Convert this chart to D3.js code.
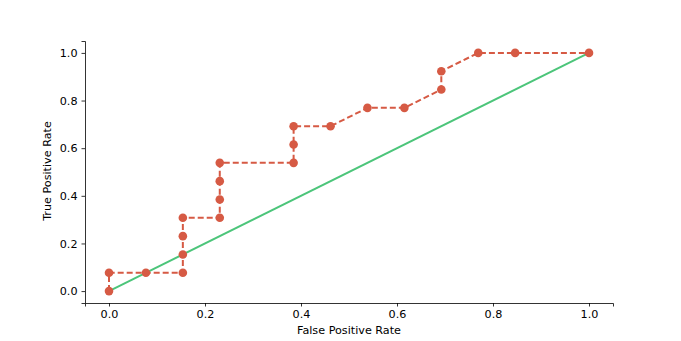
<!DOCTYPE html>
<html>
<head>
  <meta charset="UTF-8">
  <style>
    body { margin: 0; background: #fff; }
    svg text { font-family: "DejaVu Sans", sans-serif; }
  </style>
</head>
<body>
<svg></svg>
<script src="https://d3js.org/d3.v7.min.js"></script>
<script>

let width = 681, height = 341;

// ROC points (fractions of 13)
let fpr = [0, 0, 1/13, 2/13, 2/13, 2/13, 2/13, 3/13, 3/13, 3/13, 3/13, 5/13, 5/13, 5/13, 6/13, 7/13, 8/13, 9/13, 9/13, 10/13, 11/13, 1];
let tpr = [0, 1/13, 1/13, 1/13, 2/13, 3/13, 4/13, 4/13, 5/13, 6/13, 7/13, 7/13, 8/13, 9/13, 9/13, 10/13, 10/13, 11/13, 12/13, 1, 1, 1];
let diagX = [0, 1];
let diagY = [0, 1];
let xTicks = [0, 0.2, 0.4, 0.6, 0.8, 1.0];
let yTicks = [0, 0.2, 0.4, 0.6, 0.8, 1.0];

let svg = d3.select("svg")
    .attr("width", width)
    .attr("height", height);

let margin = {left: 85, right: 68, top: 41, bottom: 38};
let fs = 11.2;

let x = d3.scaleLinear().domain([-0.05, 1.05]).range([margin.left, width - margin.right]);
let y = d3.scaleLinear().domain([-0.05, 1.05]).range([height - margin.bottom, margin.top]);

let red = "#d65a44", green = "#4cc57a";

// axes
let xAxis = svg.append("g")
    .attr("transform", "translate(0," + (height - margin.bottom) + ")")
    .call(d3.axisBottom(x).tickValues(xTicks).tickFormat(d3.format(".1f")).tickSizeOuter(0).tickSize(3.5).tickPadding(4));
let yAxis = svg.append("g")
    .attr("transform", "translate(" + margin.left + ",0)")
    .call(d3.axisLeft(y).tickValues(yTicks).tickFormat(d3.format(".1f")).tickSizeOuter(0).tickSize(3.5).tickPadding(4));

[xAxis, yAxis].forEach(a => {
    a.selectAll("text").attr("font-size", fs).attr("fill", "#000").attr("font-family", "DejaVu Sans");
    a.selectAll("line").attr("stroke", "#000").attr("stroke-width", 0.8);
    a.select(".domain").attr("stroke", "#000").attr("stroke-width", 0.8);
});

// diagonal
let line = d3.line().x(d => x(d[0])).y(d => y(d[1]));
svg.append("path")
    .datum(d3.zip(diagX, diagY))
    .attr("d", line)
    .attr("fill", "none")
    .attr("stroke", green)
    .attr("stroke-width", 2);

// roc curve
let pts = d3.zip(fpr, tpr);
svg.append("path")
    .datum(pts)
    .attr("d", line)
    .attr("fill", "none")
    .attr("stroke", red)
    .attr("stroke-width", 2)
    .attr("stroke-dasharray", "6,3");

svg.append("g")
    .selectAll("circle")
    .data(pts)
    .enter()
        .append("circle")
        .attr("cx", d => x(d[0]))
        .attr("cy", d => y(d[1]))
        .attr("r", 4.3)
        .attr("fill", red);

// labels
svg.append("text")
    .attr("x", (margin.left + width - margin.right) / 2)
    .attr("y", 334)
    .attr("text-anchor", "middle")
    .attr("font-size", fs)
    .text("False Positive Rate");

svg.append("text")
    .attr("transform", "translate(51," + ((margin.top + height - margin.bottom) / 2 - 1) + ") rotate(-90)")
    .attr("text-anchor", "middle")
    .attr("font-size", fs)
    .text("True Positive Rate");

</script>
</body>
</html>
